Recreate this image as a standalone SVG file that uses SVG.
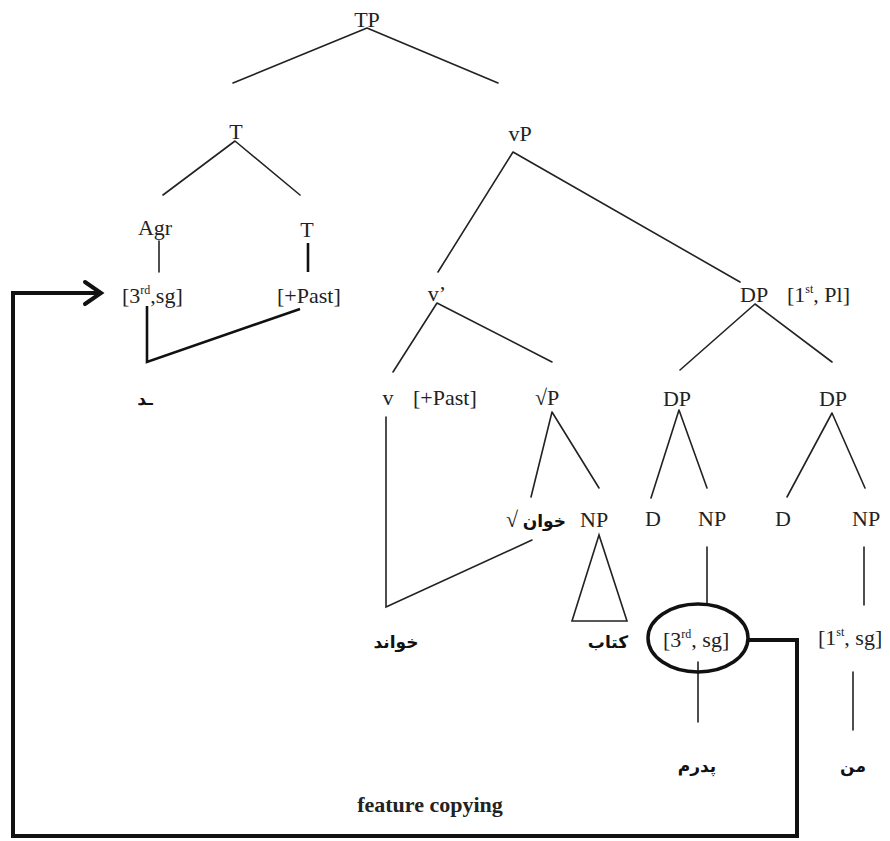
<svg xmlns="http://www.w3.org/2000/svg" width="890" height="841" viewBox="0 0 890 841">
<style>
  text { font-family: "Liberation Serif", "DejaVu Sans", serif; font-size: 22px; fill: #222; }
  .ar { font-family: "DejaVu Sans", "Noto Sans", sans-serif; font-size: 17px; font-weight: bold; fill: #111; }
  .sup { font-size: 12px; }
  .b { font-weight: bold; }
  .ln { stroke: #222; stroke-width: 1.6; fill: none; stroke-linecap: round; }
  .thk { stroke: #111; stroke-width: 2.6; fill: none; }
  .big { stroke: #111; stroke-width: 4; fill: none; stroke-linejoin: miter; }
</style>
<rect width="890" height="841" fill="#fff"/>

<g id="connectors">
  <path class="ln" d="M367,28 L233,83 M367,28 L498,83"/>
  <path class="ln" d="M235,141 L163,195 M235,141 L300,195"/>
  <path class="ln" d="M513,152 L438,272 M513,152 L740,282"/>
  <path class="ln" d="M159,241 L159,272"/>
  <path class="thk" d="M308,243 L308,272"/>
  <path class="thk" d="M147,306 L147,362 L300,309"/>
  <path class="ln" d="M437,303 L393,372 M437,303 L552,362"/>
  <path class="ln" d="M755,304 L680,370 M755,304 L832,362"/>
  <path class="ln" d="M552,412 L531,497 M552,412 L599,488"/>
  <path class="ln" d="M386,417 L386,607 L532,540" stroke-width="2"/>
  <path class="ln" d="M599,535 L572,621 L627,621 Z" stroke-width="2"/>
  <path class="ln" d="M679,410 L651,498 M679,410 L707,488"/>
  <path class="ln" d="M832,413 L787,497 M832,413 L865,488"/>
  <path class="ln" d="M707,547 L707,603"/>
  <path class="ln" d="M698,662 L698,722"/>
  <path class="ln" d="M864,547 L864,605"/>
  <path class="ln" d="M853,672 L853,730"/>
  <path class="big" d="M748,640 L797,640 L797,836 L13,836 L13,293 L100,293"/>
  <path class="big" d="M85,282 L101,293 L85,304" stroke-linecap="round" stroke-linejoin="round"/>
</g>

<g id="TP"><text x="367" y="27" text-anchor="middle">TP</text></g>
<g id="T1"><text x="236" y="139" text-anchor="middle">T</text></g>
<g id="vP"><text x="520" y="141" text-anchor="middle">vP</text></g>
<g id="Agr"><text x="155" y="235" text-anchor="middle">Agr</text></g>
<g id="T2"><text x="307" y="237" text-anchor="middle">T</text></g>
<g id="agr-feat"><text x="122" y="303">[3<tspan class="sup" dy="-9">rd</tspan><tspan dy="9">,sg]</tspan></text></g>
<g id="t-feat"><text x="277" y="303">[+Past]</text></g>
<g id="vbar"><text x="437" y="301" text-anchor="middle">v’</text></g>
<g id="DP-top"><text x="740" y="302">DP</text><text x="787" y="302">[1<tspan class="sup" dy="-9">st</tspan><tspan dy="9">, Pl]</tspan></text></g>
<g id="agr-exp"><text class="ar" x="145" y="405" text-anchor="middle">ـد</text></g>
<g id="v"><text x="388" y="405" text-anchor="middle">v</text><text x="413" y="405">[+Past]</text></g>
<g id="rootP"><text x="535" y="405">√P</text></g>
<g id="DP-left"><text x="677" y="406" text-anchor="middle">DP</text></g>
<g id="DP-right"><text x="833" y="406" text-anchor="middle">DP</text></g>
<g id="root"><text x="506" y="527">√</text><text class="ar" x="566" y="527" text-anchor="end" font-size="16">خوان</text></g>
<g id="NP1"><text x="580" y="527">NP</text></g>
<g id="D1"><text x="645" y="526">D</text></g>
<g id="NP2"><text x="698" y="526">NP</text></g>
<g id="D2"><text x="775" y="526">D</text></g>
<g id="NP3"><text x="852" y="526">NP</text></g>
<g id="v-exp"><text class="ar" x="396" y="648" text-anchor="middle">خواند</text></g>
<g id="np-exp"><text class="ar" x="608" y="648" text-anchor="middle">کتاب</text></g>
<g id="feat-3sg">
  <ellipse cx="698" cy="638" rx="50" ry="34" fill="none" stroke="#111" stroke-width="3.5"/>
  <text x="663" y="647">[3<tspan class="sup" dy="-9">rd</tspan><tspan dy="9">, sg]</tspan></text>
</g>
<g id="feat-1sg"><text x="818" y="645">[1<tspan class="sup" dy="-9">st</tspan><tspan dy="9">, sg]</tspan></text></g>
<g id="pedaram"><text class="ar" x="697" y="772" text-anchor="middle">پدرم</text></g>
<g id="man"><text class="ar" x="853" y="772" text-anchor="middle">من</text></g>
<g id="label"><text class="b" x="430" y="812" text-anchor="middle">feature copying</text></g>
</svg>
